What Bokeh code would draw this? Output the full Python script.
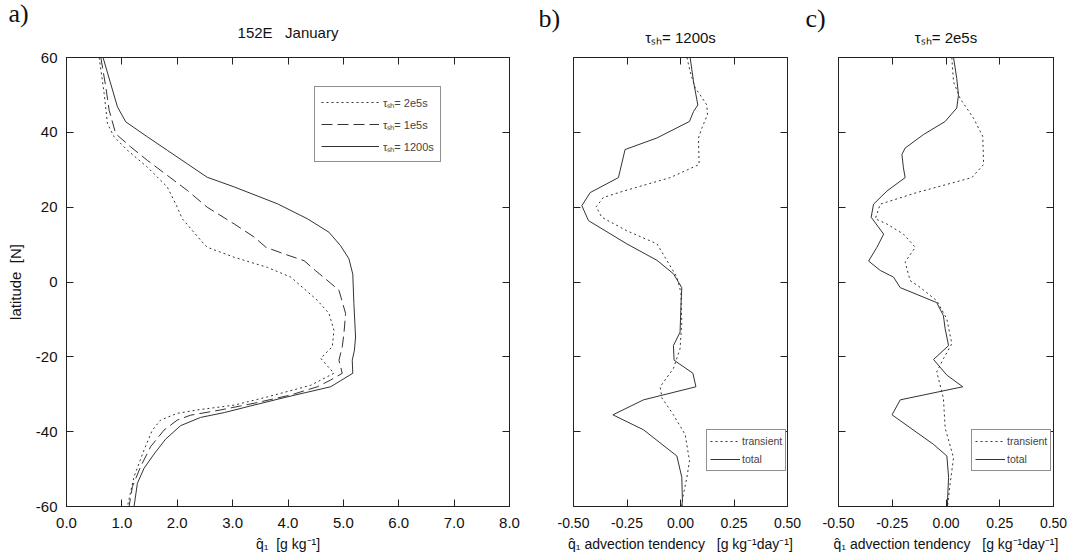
from bokeh.plotting import figure
from bokeh.models import (FixedTicker, LinearAxis, Range1d, Legend, LegendItem,
                          Title, PrintfTickFormatter)
from bokeh.layouts import row
from bokeh.embed import file_html
from bokeh.resources import INLINE

# ---------------- data ----------------
# panel a : q1 profiles at 152E, January
lat_sol = [60, 46.8, 42.8, 38.8, 35.2, 31.6, 28, 25.4, 20.9, 16.9, 13.3, 9.7, 6.2, 2.1,
           -5.8, -14.7, -18.2, -20.9, -24.4, -28, -30.9, -33.1, -34.9, -36.2, -38.4,
           -42, -46, -49.8, -53.8, -60]
q_sol = [0.66, 0.92, 1.07, 1.46, 1.82, 2.18, 2.54, 3.03, 3.81, 4.35, 4.74, 4.95, 5.10, 5.17,
         5.19, 5.22, 5.20, 5.16, 5.17, 4.77, 3.93, 3.33, 2.85, 2.42, 2.06,
         1.79, 1.58, 1.40, 1.28, 1.22]

lat_dash = [60, 52.1, 45.9, 39.6, 36.1, 32.5, 28.5, 24.5, 20, 15.5, 12, 9.3, 7.5, 5.7, 3.0,
            0.8, -2.2, -8.4, -13.8, -17.3, -20.9, -24.4, -26.2, -28, -30.2, -32.4, -34.2,
            -35.6, -36.9, -39.6, -44, -49.3, -54.7, -60]
q_dash = [0.62, 0.71, 0.77, 0.89, 1.16, 1.46, 1.82, 2.18, 2.54, 3.03, 3.39, 3.60, 3.93, 4.29,
          4.50, 4.68, 4.92, 5.04, 5.01, 4.98, 4.92, 4.98, 4.77, 4.53, 4.05, 3.39, 2.78,
          2.24, 2.0, 1.76, 1.52, 1.34, 1.19, 1.13]

lat_dot = [60, 50.4, 42.3, 38.8, 35.2, 30.7, 25.4, 20, 16.9, 10.2, 9.3, 6.6, 3.9, 1.3, -4.9,
           -8.4, -12.9, -17.3, -20.4, -24.4, -25.3, -27.6, -30.7, -32.9, -34.2, -35.1,
           -36.9, -39.6, -44.9, -52, -60]
q_dot = [0.59, 0.68, 0.74, 0.86, 1.10, 1.46, 1.82, 2.00, 2.09, 2.48, 2.54, 3.03, 3.63, 4.05,
         4.53, 4.74, 4.83, 4.80, 4.59, 4.83, 4.71, 4.41, 3.63, 3.03, 2.36, 2.0,
         1.70, 1.55, 1.40, 1.22, 1.10]

# panel b : tau_sh = 1200s advection tendency
lat_b_tot = [60, 53.5, 47.3, 45.6, 42.9, 38.5, 35.4, 27.9, 23.9, 20.4, 16.4, 10.2, 5.8, 2.2,
             -1.5, -6.4, -13.4, -17, -20.9, -24.4, -28, -31.5, -35.5, -39.5, -46.5, -52.2,
             -58.4, -60]
x_b_tot = [0.045, 0.061, 0.081, 0.061, 0.042, -0.11, -0.259, -0.29, -0.422, -0.461, -0.43,
           -0.251, -0.11, -0.033, 0.006, 0.002, -0.002, -0.033, -0.03, 0.058, 0.072, -0.173,
           -0.316, -0.173, -0.017, 0.006, 0.009, 0.006]
lat_b_tr = [60, 56.2, 51.8, 50, 47.3, 44.7, 41.2, 38.5, 31.4, 27.9, 24.3, 22.6, 20.1, 17.3,
            13.7, 10.2, 5.8, 1.3, -2.8, -10.8, -17.8, -23.1, -28, -31, -35.5, -40.8, -47.8,
            -52.2, -57.5, -60]
x_b_tr = [0.03, 0.045, 0.069, 0.092, 0.123, 0.126, 0.1, 0.084, 0.087, -0.048, -0.266, -0.36,
          -0.394, -0.368, -0.251, -0.11, -0.064, -0.017, 0.002, 0.006, -0.002, -0.033,
          -0.095, -0.087, -0.033, 0.022, 0.042, 0.03, 0.011, 0.006]

# panel c : tau_sh = 2e5s advection tendency
lat_c_tot = [60, 54.4, 50, 46.5, 42.9, 39.4, 35.8, 34.1, 30.5, 27.9, 24.3, 20.8, 17.3, 12.8,
             9.3, 5.6, 3.1, 1.3, -1.5, -5.5, -9, -12.5, -17, -20.7, -24.9, -28, -31.5, -35.5,
             -43.4, -46.5, -52.2, -58.4, -60]
x_c_tot = [0.035, 0.05, 0.058, 0.05, -0.004, -0.105, -0.19, -0.205, -0.198, -0.19, -0.275,
           -0.337, -0.348, -0.29, -0.321, -0.36, -0.306, -0.244, -0.213, -0.043, -0.012,
           -0.004, 0.012, -0.058, 0.004, 0.078, -0.213, -0.251, -0.058, 0.004, 0.012, 0.007,
           0.007]
lat_c_tr = [60, 53.5, 49.0, 43.8, 38.9, 31.4, 27.9, 23.9, 20.8, 16.9, 15.5, 12.8, 9.3, 5.3,
            0.4, -1.1, -5, -9.9, -16.5, -20.5, -24, -31.1, -39, -47, -54, -60]
x_c_tr = [0.027, 0.035, 0.066, 0.128, 0.171, 0.175, 0.12, -0.136, -0.306, -0.329, -0.275,
          -0.198, -0.143, -0.19, -0.167, -0.128, -0.043, 0.004, 0.027, -0.012, -0.043, -0.012,
          -0.004, 0.035, 0.019, 0.007]

lat_ticks = [-60, -40, -20, 0, 20, 40, 60]
q_ticks = [0, 1, 2, 3, 4, 5, 6, 7, 8]
adv_ticks = [-0.5, -0.25, 0.0, 0.25, 0.5]

legend_a = ["\u03c4\u209b\u2095= 2e5s", "\u03c4\u209b\u2095= 1e5s", "\u03c4\u209b\u2095= 1200s"]
legend_bc = ["transient", "total"]
titles = ["152E\u00a0\u00a0\u00a0January", "\u03c4\u209b\u2095= 1200s", "\u03c4\u209b\u2095= 2e5s"]
letters = ["a)", "b)", "c)"]
xlabel_a = "q\u0302\u2081\u00a0\u00a0[g kg\u207b\u00b9]"
xlabel_bc = "q\u0302\u2081 advection tendency\u00a0\u00a0\u00a0[g kg\u207b\u00b9day\u207b\u00b9]"
ylabel = "latitude\u00a0\u00a0[N]"

FONT = "Liberation Sans"
INK = "#222222"
LINE = "#333333"
DOT = "2 3"
DASH = "11 5"
FIG_H = 556


def style_axis(ax, ticks, fmt, size, show_labels=True):
    ax.ticker = FixedTicker(ticks=ticks)
    ax.formatter = PrintfTickFormatter(format=fmt)
    ax.major_tick_in = 7
    ax.major_tick_out = 0
    ax.minor_tick_line_color = None
    ax.axis_line_color = INK
    ax.major_tick_line_color = INK
    ax.major_label_text_font = FONT
    ax.major_label_text_font_size = size
    ax.major_label_text_color = "#111111"
    ax.major_label_standoff = 11
    ax.axis_label_text_font = FONT
    ax.axis_label_text_font_size = "14px"
    ax.axis_label_text_font_style = "normal"
    ax.axis_label_text_color = "#111111"
    if not show_labels:
        ax.major_label_overrides = {t: "" for t in ticks}
        ax.major_label_standoff = 0
        ax.major_label_text_font_size = "0px"


def make_panel(xr, xticks, xfmt, tick_size, w, bl, br, bt, bb, title, title_standoff,
               letter, letter_offset, letter_standoff, xlabel, show_y):
    p = figure(x_range=Range1d(*xr), y_range=Range1d(-60, 60),
               width=w, height=FIG_H,
               min_border_left=bl, min_border_right=br,
               min_border_top=bt, min_border_bottom=bb,
               output_backend="svg", toolbar_location=None, title=None)
    p.grid.visible = False
    p.outline_line_color = INK
    p.outline_line_width = 1
    p.background_fill_color = "white"
    p.border_fill_color = "white"
    p.add_layout(LinearAxis(), "above")
    p.add_layout(LinearAxis(), "right")
    style_axis(p.below[0], xticks, xfmt, tick_size, True)
    style_axis(p.above[0], xticks, xfmt, tick_size, False)
    style_axis(p.left[0], lat_ticks, "%d", "15px", show_y)
    style_axis(p.right[0], lat_ticks, "%d", "15px", False)
    p.below[0].axis_label = xlabel
    p.below[0].axis_label_standoff = 5
    if show_y:
        p.left[0].major_label_standoff = 9
        p.left[0].axis_label = ylabel
        p.left[0].axis_label_standoff = 9
        p.left[0].axis_label_text_font_size = "15px"
    p.add_layout(Title(text=title, align="center", text_font=FONT, text_font_size="15px",
                       text_font_style="normal", text_color="#111111",
                       standoff=title_standoff), "above")
    p.add_layout(Title(text=letter, align="left", offset=letter_offset,
                       text_font="Liberation Serif", text_font_size="26px",
                       text_font_style="normal", text_color="#111111",
                       standoff=letter_standoff), "above")
    return p


# ---------------- panel a ----------------
pa = make_panel((0, 8), q_ticks, "%.1f", "15px", 540, 66, 31, 57, 49, titles[0], 33,
                letters[0], -58, -45, xlabel_a, True)
r_dot = pa.line(q_dot, lat_dot, line_color=LINE, line_width=1, line_dash=DOT)
r_dash = pa.line(q_dash, lat_dash, line_color=LINE, line_width=1, line_dash=DASH)
r_sol = pa.line(q_sol, lat_sol, line_color=LINE, line_width=1)
leg_a = Legend(items=[LegendItem(label=legend_a[0], renderers=[r_dot]),
                      LegendItem(label=legend_a[1], renderers=[r_dash]),
                      LegendItem(label=legend_a[2], renderers=[r_sol])],
               location=(248, 344), glyph_width=58, glyph_height=18, label_height=18,
               label_standoff=4, padding=6, spacing=4, margin=0,
               label_text_font=FONT, label_text_font_size="11px",
               border_line_color=INK, border_line_width=1,
               background_fill_alpha=1.0)
pa.add_layout(leg_a, "center")


def adv_panel(lat_tot, x_tot, lat_tr, x_tr, w, bl, br, title, letter, letter_offset):
    p = make_panel((-0.5, 0.5), adv_ticks, "%.2f", "14px", w, bl, br, 52, 50, title, 24,
                   letter, letter_offset, -36, xlabel_bc, False)
    r_tr = p.line(x_tr, lat_tr, line_color=LINE, line_width=1, line_dash=DOT)
    r_tot = p.line(x_tot, lat_tot, line_color=LINE, line_width=1)
    leg = Legend(items=[LegendItem(label=legend_bc[0], renderers=[r_tr]),
                        LegendItem(label=legend_bc[1], renderers=[r_tot])],
                 location=(133, 35), glyph_width=30, glyph_height=16, label_height=16,
                 label_standoff=2, padding=3, spacing=2, margin=0,
                 label_text_font=FONT, label_text_font_size="10.5px",
                 border_line_color=INK, border_line_width=1,
                 background_fill_alpha=1.0)
    p.add_layout(leg, "center")
    return p


pb = adv_panel(lat_b_tot, x_b_tot, lat_b_tr, x_b_tr, 262, 33, 15, titles[1], letters[1], -35)
pc = adv_panel(lat_c_tot, x_c_tot, lat_c_tr, x_c_tr, 265, 36, 14, titles[2], letters[2], -33)

layout = row(pa, pb, pc, spacing=0)
open("out.html", "w").write(file_html(layout, INLINE))
